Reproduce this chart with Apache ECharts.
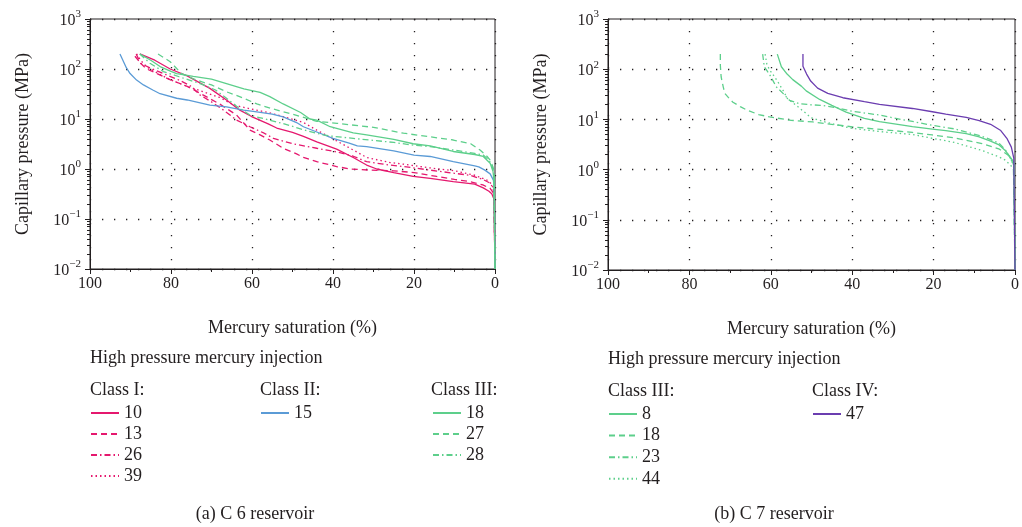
<!DOCTYPE html>
<html>
<head>
<meta charset="utf-8">
<script src="https://cdn.jsdelivr.net/npm/echarts@6/dist/echarts.min.js"></script>
<style>
html,body{margin:0;padding:0;background:#fff;}
#chart{width:1022px;height:527px;}
</style>
</head>
<body>
<div id="chart"></div>
<script>
// ---------- DATA ----------
// x tick labels (Mercury saturation, %)
const satTicks = [100, 80, 60, 40, 20, 0];
// y range (Capillary pressure, MPa) powers
const pressureRange = [0.01, 1000];

// C6 reservoir: [saturation %, pressure MPa]
const c6_10 = [[87.7,200],[84,150],[80.2,100],[76,73],[70.4,41],[66.3,24],[63,15],[60.1,11.2],[56,8],[53.9,6.6],[50,5.4],[47.3,4.5],[44,3.5],[39.1,2.5],[35,1.7],[31.7,1.2],[29.2,1.0],[25,0.85],[20.2,0.71],[16,0.65],[10.3,0.56],[5,0.5],[2.9,0.42],[1.5,0.36],[0.8,0.32],[0.25,0.25],[0,0.01]];
const c6_13 = [[88.6,200],[87.5,130],[86,100],[84,85],[80,60],[76,45],[72,30],[68,20],[63.8,12],[60.5,6.0],[58,4.8],[55.6,3.8],[52.3,2.6],[49,2.0],[47.3,1.7],[44,1.4],[39.1,1.12],[35.8,1.0],[30.9,0.95],[25,0.92],[20,0.85],[14.4,0.71],[10,0.62],[6.2,0.56],[3,0.48],[1.2,0.41],[0.5,0.34],[0.25,0.28],[0,0.01]];
const c6_26 = [[88.9,180],[87.5,130],[85.2,105],[81.9,81],[78,60],[75,45],[72.8,30],[70,22],[67,15],[63.8,9.5],[60.5,7.0],[57,5.2],[54.7,4.1],[50,3.2],[44,2.6],[39.1,2.2],[35,1.8],[31.7,1.4],[26,1.2],[22.6,1.12],[16,0.95],[10,0.82],[6.2,0.75],[3,0.62],[1.2,0.52],[0.5,0.42],[0.25,0.33],[0,0.01]];
const c6_39 = [[88.5,200],[87.5,150],[86,110],[83,80],[80,60],[76,45],[72,35],[68,27],[64.5,19],[60.5,16],[56,13.5],[52.3,11.2],[47.3,8.5],[44,6],[39.5,3.8],[35,2.4],[31.7,1.7],[26,1.35],[22.6,1.25],[16,1.05],[10,0.92],[5,0.75],[2,0.6],[0.8,0.5],[0.25,0.38],[0,0.01]];
const c6_15 = [[92.6,200],[91,105],[90.1,81],[88.5,60],[86.8,48],[84.5,38],[82.7,32],[78.6,26],[76,24],[70.4,19],[66.3,17.5],[62.1,15],[59.7,14.2],[55,12.5],[52.3,11],[49,8.5],[47.3,7],[44,5.5],[40,4.1],[36,3.3],[34,2.9],[31.7,2.8],[25,2.3],[20,1.9],[16,1.78],[10.3,1.4],[5,1.15],[4,1.1],[2.5,0.95],[1.2,0.8],[0.4,0.6],[0.2,0.45],[0,0.01]];
const c6_18 = [[87.7,200],[85,150],[82.7,112],[80,90],[78.6,81],[74.5,71],[70,63],[66.3,51],[62,40],[58,34],[55.6,28],[52.3,20],[48,13.5],[45.7,10],[44,9.5],[40.7,7],[35,5.3],[31.7,4.8],[25,3.9],[20.2,3.2],[16,2.9],[10.3,2.24],[5,1.95],[2.9,1.78],[1.2,1.3],[0.5,0.9],[0.25,0.6],[0,0.01]];
const c6_27 = [[83.2,200],[80.2,140],[77.4,81],[73.7,60],[70,48],[66.3,35],[62,26],[58.8,20],[55,16],[50,12.5],[44,9],[39,8.2],[30,6.8],[22.6,5.2],[16,4.4],[10.3,3.8],[6,3.2],[3.7,2.4],[2,1.8],[1.2,1.5],[0.5,1.1],[0.25,0.9],[0,0.01]];
const c6_28 = [[87.7,200],[85.2,130],[81.9,89],[78,70],[74,55],[72,48],[69,38],[66.3,26],[63.8,18],[60.5,12],[58.8,11],[55,9.2],[52.3,8.1],[47,6],[42.4,4.8],[39.9,4.5],[35,4.1],[30.9,3.8],[25,3.4],[20.2,3.0],[16,2.8],[10.3,2.4],[5,2.05],[2.9,1.9],[1.5,1.5],[0.8,1.2],[0.25,0.8],[0,0.01]];

// C7 reservoir
const c7_8  = [[58.4,200],[57.4,112],[56,80],[54.6,62],[52.5,46],[51.3,37],[48,25],[45,19],[41.5,14],[37,10.5],[33.3,9],[28,7.8],[25.2,7.2],[20.3,6.4],[17,6],[12,5.2],[8.8,4.5],[6,3.7],[3.9,3.1],[2.4,2.4],[1.2,1.8],[0.25,1.4],[0,0.01]];
const c7_18 = [[72.4,200],[72.4,120],[72.2,70],[71.7,45],[71.3,33],[70,25],[69.3,22],[67.5,18],[66,15.5],[63,12.5],[60.3,11.2],[55,9.6],[49.7,8.9],[44,7.8],[39.9,7.1],[33,6.3],[25.2,5.5],[20.3,4.9],[15,4.3],[8.1,3.3],[4,2.6],[1.5,1.9],[0.4,1.3],[0,0.01]];
const c7_23 = [[62,200],[61.6,112],[60.4,81],[59.5,60],[58.7,45],[57,33],[55.4,24],[53,20.5],[50,19.5],[47.2,19],[43,16.5],[39.9,14.5],[33.3,12.2],[28,10],[25.2,9.1],[20.3,7.6],[15,6.5],[8.1,4.6],[4,3.4],[2.4,2.5],[1,1.6],[0.3,1.2],[0,0.01]];
const c7_44 = [[61.4,200],[61,130],[60.4,100],[59.6,81],[58.5,60],[57,38],[55.9,26],[53.4,18],[51.5,13.5],[50.1,10.8],[46.7,8.9],[43,7.5],[39.9,6.6],[33,5.7],[25.2,5],[20.3,4.2],[15,3.5],[8.1,2.4],[4,1.8],[2.4,1.55],[1,1.2],[0.3,1.0],[0,0.01]];
const c7_47 = [[52.1,200],[52.1,115],[51.2,80],[50.2,58],[48.5,42],[46,33],[42.3,27],[37,22.5],[33.3,20],[25.2,16.5],[20.3,14.2],[17,12.8],[12,11],[8.8,9.5],[6,8],[3.5,6],[2,4.2],[0.9,2.8],[0.3,1.7],[0,0.01]];

// ---------- STYLE ----------
const FONT = 'Liberation Serif';
const INK = '#231f20';
const MAG = '#e5186e', BLUE = '#5b9bd6', GREEN = '#5dcf8b', PURP = '#6b3db0';
const DASH = [6, 4], DASHDOT = [6, 3, 1.5, 3], DOT = [1.5, 3];

const seriesDefs = [
  {name:'C6_10', g:0, data:c6_10, color:MAG, type:'solid'},
  {name:'C6_13', g:0, data:c6_13, color:MAG, type:DASH},
  {name:'C6_26', g:0, data:c6_26, color:MAG, type:DASHDOT},
  {name:'C6_39', g:0, data:c6_39, color:MAG, type:DOT},
  {name:'C6_15', g:0, data:c6_15, color:BLUE, type:'solid'},
  {name:'C6_18', g:0, data:c6_18, color:GREEN, type:'solid'},
  {name:'C6_27', g:0, data:c6_27, color:GREEN, type:DASH},
  {name:'C6_28', g:0, data:c6_28, color:GREEN, type:DASHDOT},
  {name:'C7_8',  g:1, data:c7_8,  color:GREEN, type:'solid'},
  {name:'C7_18', g:1, data:c7_18, color:GREEN, type:DASH},
  {name:'C7_23', g:1, data:c7_23, color:GREEN, type:DASHDOT},
  {name:'C7_44', g:1, data:c7_44, color:GREEN, type:DOT},
  {name:'C7_47', g:1, data:c7_47, color:PURP, type:'solid'}
];

const minorLogs = [];
for (let e = -2; e < 3; e++) for (let k = 2; k <= 9; k++) minorLogs.push(e + Math.log10(k));

const dotted = {color: INK, width: 1.3, type: [1.3, 10.7]};

function xAxisFor(g) {
  return {
    type:'value', gridIndex:g, min:0, max:100, interval:20, inverse:true,
    name:'Mercury saturation (%)', nameLocation:'middle', nameGap:50,
    nameTextStyle:{fontFamily:FONT, fontSize:18, color:INK},
    axisLine:{onZero:false, lineStyle:{color:INK, width:1}},
    axisTick:{length:5, lineStyle:{color:INK}},
    minorTick:{show:true, splitNumber:2, length:3, lineStyle:{color:INK}},
    axisLabel:{fontFamily:FONT, fontSize:16, color:INK, margin:7},
    splitLine:{show:true, lineStyle:dotted}
  };
}
function yAxisFor(g) {
  return {
    type:'log', gridIndex:g, min:pressureRange[0], max:pressureRange[1], logBase:10, position:'left',
    name:'Capillary pressure (MPa)', nameLocation:'middle', nameGap:58,
    nameTextStyle:{fontFamily:FONT, fontSize:18, color:INK},
    axisLine:{show:true, onZero:false, lineStyle:{color:INK, width:1}},
    axisTick:{length:5, lineStyle:{color:INK}},
    axisLabel:{
      showMinLabel:true, showMaxLabel:true, margin:9,
      formatter: v => { const e = Math.round(Math.log10(v)); return '{b|10}{s|' + (e < 0 ? '\u2212' + (-e) : e) + '}'; },
      rich:{
        b:{fontFamily:FONT, fontSize:16, color:INK, lineHeight:20, verticalAlign:'bottom'},
        s:{fontFamily:FONT, fontSize:11, color:INK, lineHeight:20, verticalAlign:'top'}
      }
    },
    splitLine:{show:true, lineStyle:dotted}
  };
}
function yMinorFor(g) {
  return {
    type:'value', gridIndex:g, min:-2, max:3, position:'left', offset:0,
    axisLine:{show:false, onZero:false}, axisLabel:{show:false}, splitLine:{show:false},
    axisTick:{show:true, length:3, customValues:minorLogs, lineStyle:{color:INK}}
  };
}

const legendText = {fontFamily:FONT, fontSize:18, color:INK, lineHeight:14};
function legendCol(left, top, names, gap) {
  return {
    orient:'vertical', left:left, top:top, data:names,
    itemWidth:28, itemHeight:14, itemGap:gap, itemTextGap:9, padding:0,
    textStyle:legendText, selectedMode:false,
    itemStyle:{opacity:0},
    lineStyle:{width:2},
    formatter: n => n.split('_')[1]
  };
}

function txt(x, y, s, align) {
  return {type:'text', x:x, y:y,
    style:{text:s, fontFamily:FONT, fontSize:18, fill:INK, align:align || 'left', verticalAlign:'middle'}};
}

const option = {
  animation:false,
  backgroundColor:'#fff',
  grid:[
    {left:90, top:19, width:405, height:250, show:true, borderColor:INK, borderWidth:1, backgroundColor:'transparent'},
    {left:608, top:19, width:408, height:251, show:true, borderColor:INK, borderWidth:1, backgroundColor:'transparent'}
  ],
  xAxis:[xAxisFor(0), xAxisFor(1)],
  yAxis:[yAxisFor(0), yAxisFor(1), yMinorFor(0), yMinorFor(1)],
  legend:[
    legendCol(90, 404, ['C6_10','C6_13','C6_26','C6_39'], 3),
    legendCol(260, 404, ['C6_15'], 3),
    legendCol(432, 404, ['C6_18','C6_27','C6_28'], 3),
    legendCol(608, 405, ['C7_8','C7_18','C7_23','C7_44'], 3.6),
    legendCol(812, 405, ['C7_47'], 3.6)
  ],
  graphic:[
    txt(90, 358, 'High pressure mercury injection'),
    txt(90, 390, 'Class I:'),
    txt(260, 390, 'Class II:'),
    txt(431, 390, 'Class III:'),
    txt(255, 514, '(a) C 6 reservoir', 'center'),
    txt(608, 359, 'High pressure mercury injection'),
    txt(608, 391, 'Class III:'),
    txt(812, 391, 'Class IV:'),
    txt(774, 514, '(b) C 7 reservoir', 'center')
  ],
  series: seriesDefs.map(d => ({
    name:d.name, type:'line', xAxisIndex:d.g, yAxisIndex:d.g,
    data:d.data, symbol:'none', smooth:false, silent:true,
    lineStyle:{color:d.color, width:1.3, type:d.type},
    itemStyle:{color:d.color}
  }))
};

const chart = echarts.init(document.getElementById('chart'), null, {renderer:'canvas'});
chart.setOption(option);
</script>
</body>
</html>
